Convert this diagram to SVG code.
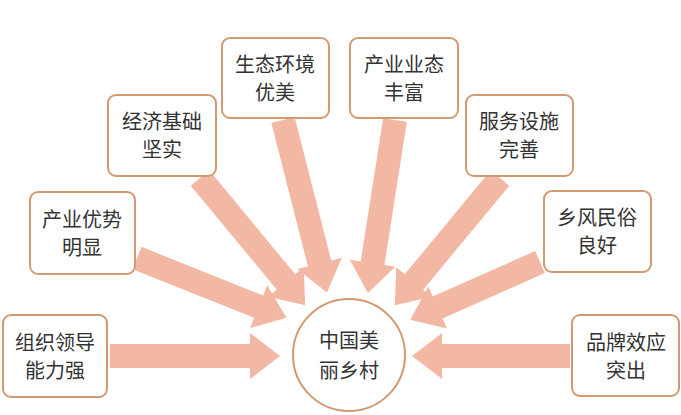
<svg xmlns="http://www.w3.org/2000/svg" width="681" height="415" viewBox="0 0 681 415">
<style>
.box{fill:#fff;stroke:#d39a72;stroke-width:2}
.arr{fill:#f3b8a3}
text{font-family:"Noto Sans CJK SC",sans-serif;font-size:20px;fill:#333;text-anchor:middle}
</style>
<rect width="681" height="415" fill="#fff"/>
<g id="connectors">
<g transform="translate(110,356)"><path class="arr" d="M0,-12H140V-23L170,0L140,23V12H0Z"/></g>
<g transform="translate(137,258) rotate(21.8)"><path class="arr" d="M0,-12H131V-23L161,0L131,23V12H0Z"/></g>
<g transform="translate(200,178) rotate(50.4)"><path class="arr" d="M0,-12H135V-23L165,0L135,23V12H0Z"/></g>
<g transform="translate(283,120) rotate(75.7)"><path class="arr" d="M0,-12H148V-23L178,0L148,23V12H0Z"/></g>
<g transform="translate(395,120) rotate(98.9)"><path class="arr" d="M0,-12H145V-23L175,0L145,23V12H0Z"/></g>
<g transform="translate(500,178) rotate(129.6)"><path class="arr" d="M0,-12H135V-23L165,0L135,23V12H0Z"/></g>
<g transform="translate(540,262) rotate(156)"><path class="arr" d="M0,-12H112V-23L142,0L112,23V12H0Z"/></g>
<g transform="translate(570,356) rotate(180)"><path class="arr" d="M0,-12H128V-23L158,0L128,23V12H0Z"/></g>
</g>
<g id="center"><circle cx="349" cy="355" r="56" fill="#fff" stroke="#d39a72" stroke-width="2"/><text x="349" y="348">中国美</text><text x="349" y="378">丽乡村</text></g>
<g id="n1"><rect class="box" x="3" y="315" width="104" height="82" rx="8"/><text x="55" y="350">组织领导</text><text x="55" y="378">能力强</text></g>
<g id="n2"><rect class="box" x="30" y="192" width="105" height="82" rx="8"/><text x="82" y="227">产业优势</text><text x="82" y="255">明显</text></g>
<g id="n3"><rect class="box" x="108" y="95" width="108" height="81" rx="8"/><text x="162" y="129">经济基础</text><text x="162" y="157">坚实</text></g>
<g id="n4"><rect class="box" x="222" y="38" width="107" height="80" rx="8"/><text x="275" y="72">生态环境</text><text x="275" y="100">优美</text></g>
<g id="n5"><rect class="box" x="350" y="38" width="108" height="80" rx="8"/><text x="404" y="72">产业业态</text><text x="404" y="100">丰富</text></g>
<g id="n6"><rect class="box" x="466" y="95" width="107" height="81" rx="8"/><text x="519" y="129">服务设施</text><text x="519" y="157">完善</text></g>
<g id="n7"><rect class="box" x="544" y="191" width="107" height="81" rx="8"/><text x="597" y="225">乡风民俗</text><text x="597" y="253">良好</text></g>
<g id="n8"><rect class="box" x="572" y="315" width="107" height="81" rx="8"/><text x="626" y="350">品牌效应</text><text x="626" y="378">突出</text></g>
</svg>
